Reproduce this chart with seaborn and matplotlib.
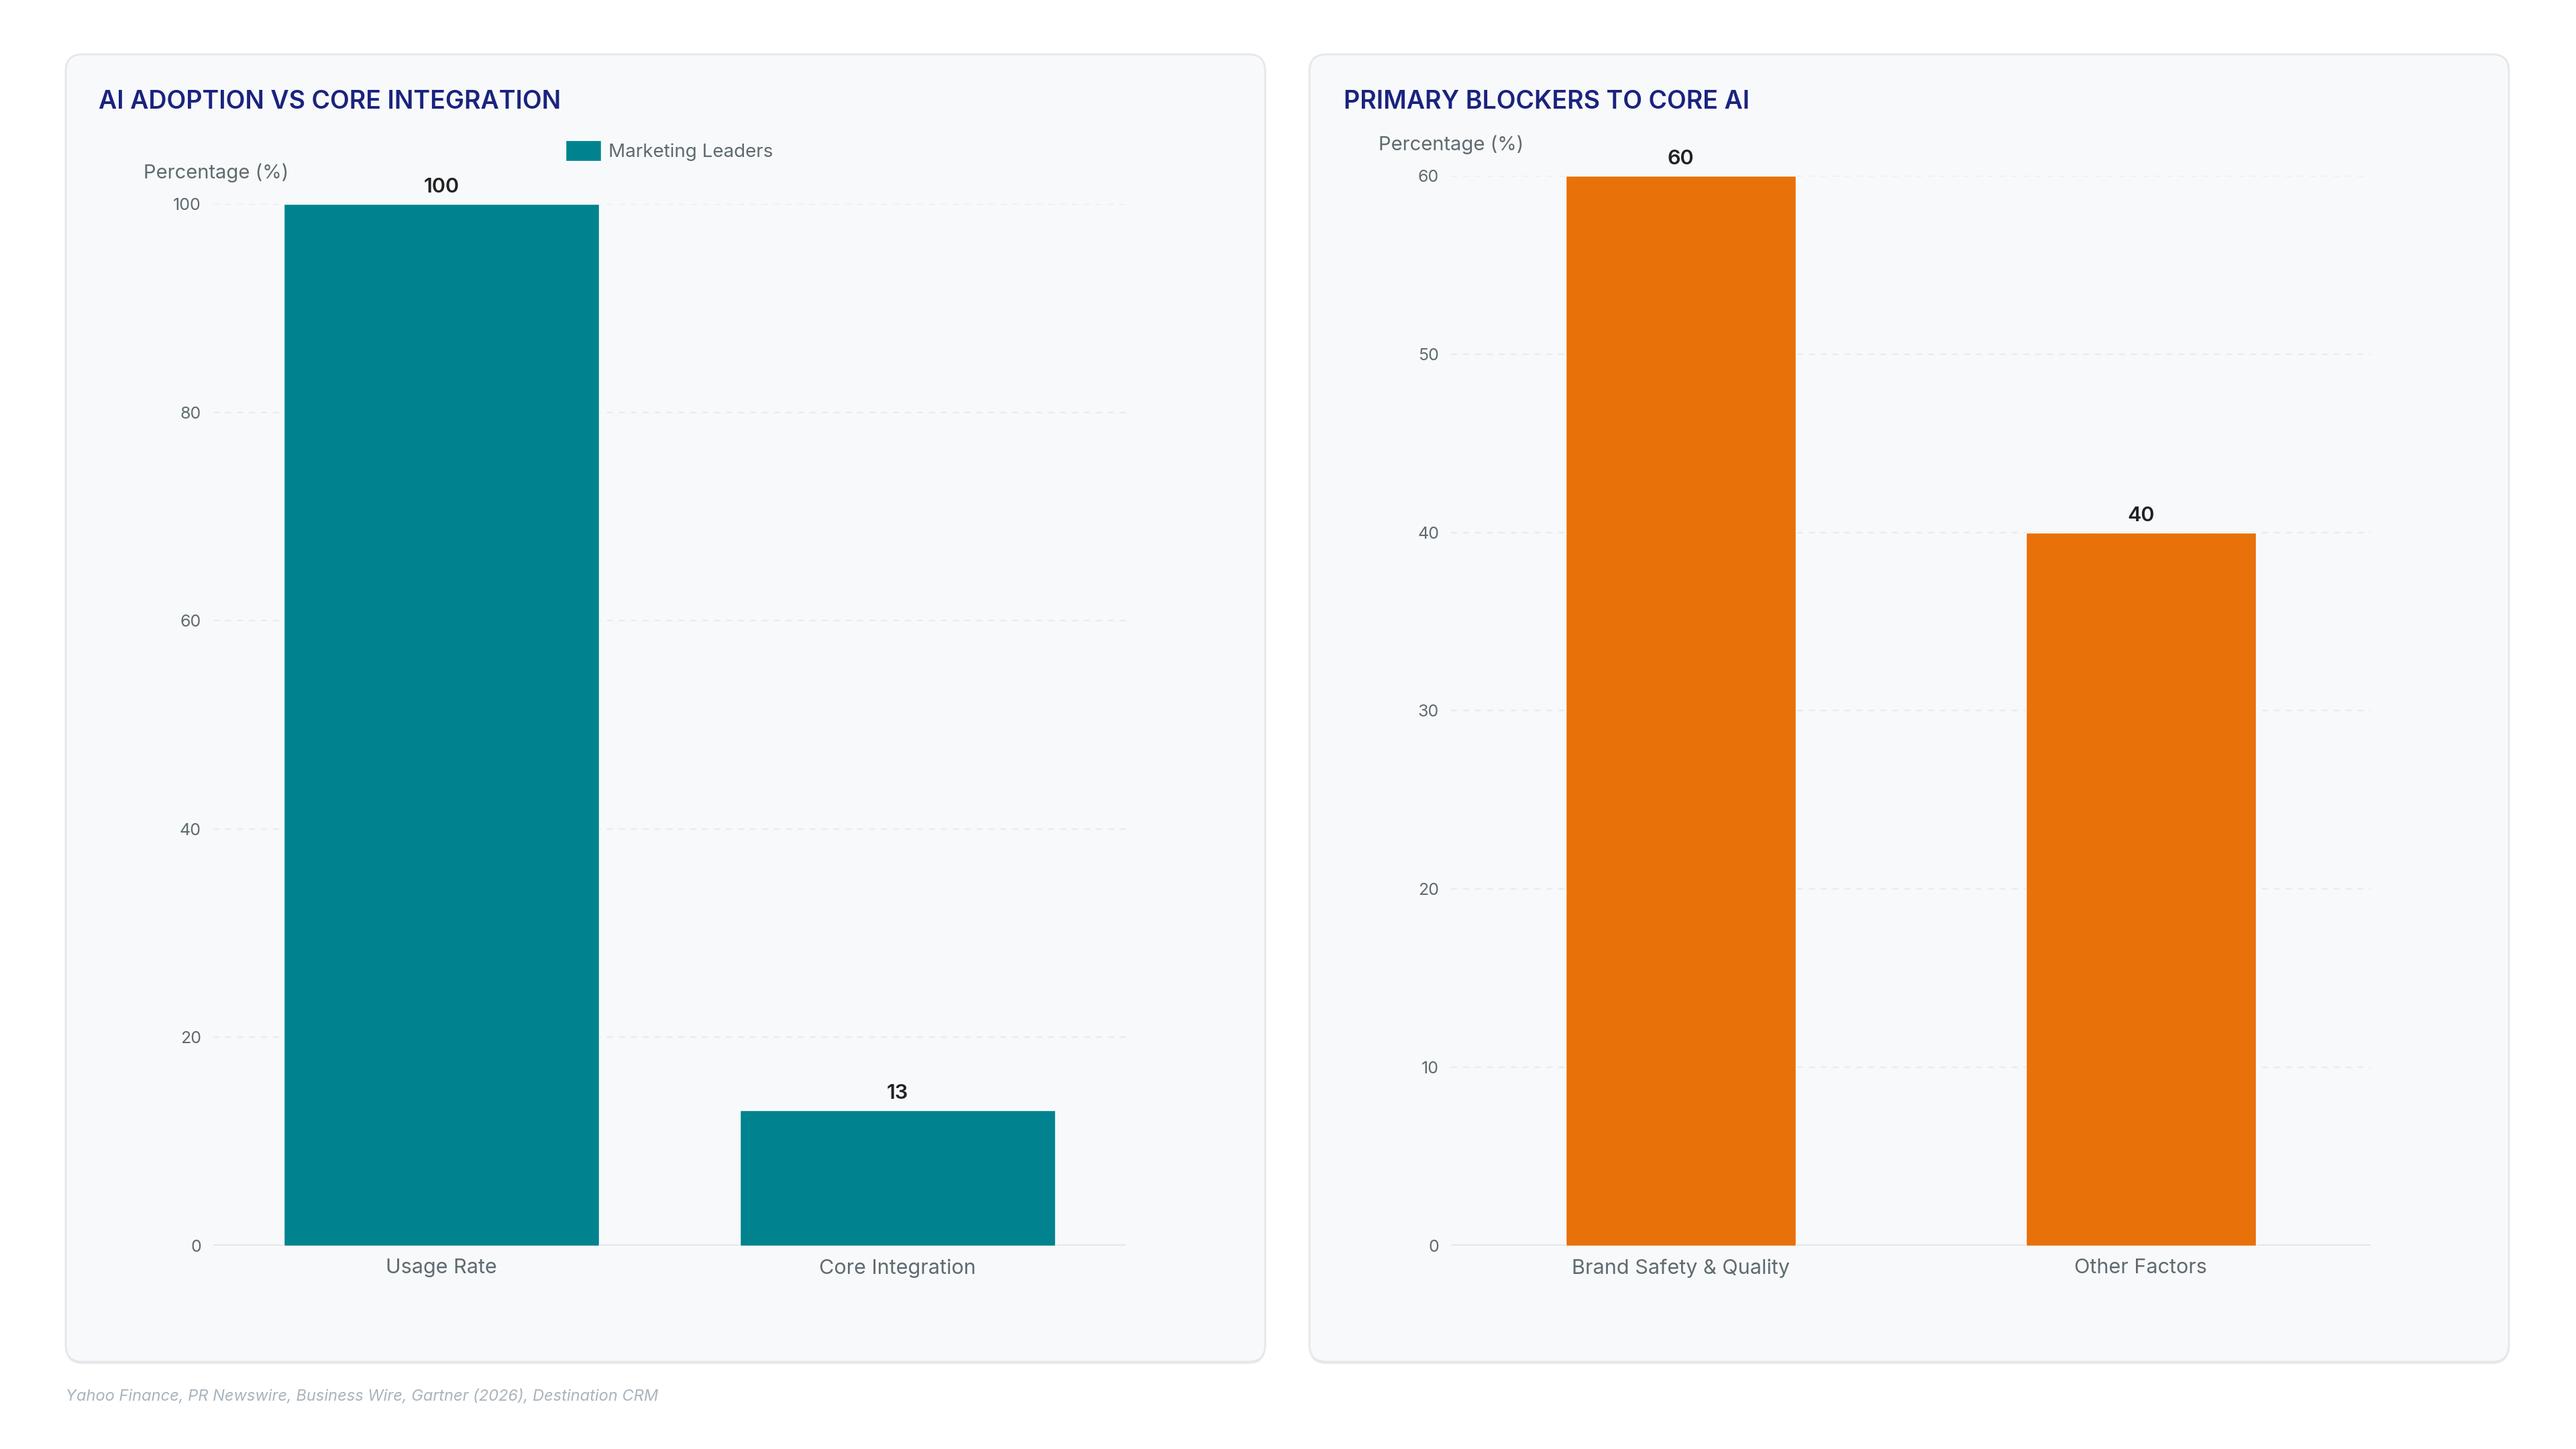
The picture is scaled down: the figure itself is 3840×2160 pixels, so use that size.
import numpy as np
import pandas as pd
import matplotlib
matplotlib.use("Agg")
import matplotlib.pyplot as plt
import seaborn as sns
from matplotlib.patches import FancyBboxPatch
from matplotlib.legend_handler import HandlerPatch

# data
adoption_cats = ["Usage Rate", "Core Integration"]
adoption_vals = [100, 13]
adoption_series = "Marketing Leaders"
adoption_ticks = [0, 20, 40, 60, 80, 100]

blocker_cats = ["Brand Safety & Quality", "Other Factors"]
blocker_vals = [60, 40]
blocker_ticks = [0, 10, 20, 30, 40, 50, 60]

source_note = "Yahoo Finance, PR Newswire, Business Wire, Gartner (2026), Destination CRM"

TEAL = "#00838f"
ORANGE = "#e8710a"
NAVY = "#1a237e"
GREY_TXT = "#5f6b70"
PANEL_BG = "#f8f9fb"
BORDER = "#e5e7eb"

sns.set_theme(style="white")
plt.rcParams["font.family"] = ["Inter", "DejaVu Sans"]

fig = plt.figure(figsize=(38.4, 21.6), dpi=100)
fig.patch.set_facecolor("white")

# panel cards (inches)
for x0 in (0.98, 19.52):
    shadow = FancyBboxPatch((x0, 1.27), 17.88, 19.49, boxstyle="round,pad=0,rounding_size=0.25",
                            transform=fig.dpi_scale_trans, facecolor=BORDER, edgecolor="none", zorder=-2)
    card = FancyBboxPatch((x0, 1.30), 17.88, 19.49, boxstyle="round,pad=0,rounding_size=0.25",
                          transform=fig.dpi_scale_trans, facecolor=PANEL_BG, edgecolor=BORDER,
                          linewidth=2, zorder=-1)
    fig.patches.extend([shadow, card])


def rounded_handle(legend, orig_handle, xdescent, ydescent, width, height, fontsize):
    return FancyBboxPatch((-xdescent, -ydescent), width, height,
                          boxstyle="round,pad=0,rounding_size=6")


def style_axis(ax, ticks):
    ax.set_facecolor("none")
    ax.set_zorder(2)
    for s in ax.spines.values():
        s.set_visible(False)
    ax.set_yticks(ticks)
    ax.set_ylim(0, ticks[-1])
    ax.set_xlim(-0.5, 1.5)
    ax.tick_params(axis="y", length=0, pad=13, labelsize=18, labelcolor=GREY_TXT)
    ax.tick_params(axis="x", length=0, pad=14, labelsize=22, labelcolor=GREY_TXT)
    ax.yaxis.grid(True, linestyle=(0, (4, 4)), color="#e9ebee", linewidth=1.6)
    ax.set_axisbelow(True)
    ax.axhline(0, color=BORDER, linewidth=3, zorder=1)
    ax.set_xlabel("")
    ax.set_ylabel("Percentage (%)", rotation=0, fontsize=21, color=GREY_TXT, va="center")


# left chart
ax1 = fig.add_axes([0.0828, 0.1403, 0.3542, 0.719])
adoption_df = pd.DataFrame({"category": adoption_cats, "value": adoption_vals})
sns.barplot(data=adoption_df, x="category", y="value", color=TEAL, width=0.69,
            saturation=1, label=adoption_series, ax=ax1, zorder=2)
style_axis(ax1, adoption_ticks)
ax1.yaxis.set_label_coords(0.003, 1.03)
ax1.bar_label(ax1.containers[0], fmt="%d", padding=8, fontsize=22, fontweight="semibold", color="#222222")
leg = ax1.legend(loc="center", bbox_to_anchor=(0.5, 1.051), frameon=False, fontsize=20,
                 handlelength=1.9, handleheight=1.35, handletextpad=0.4, labelcolor=GREY_TXT,
                 handler_map={matplotlib.patches.Rectangle: HandlerPatch(patch_func=rounded_handle)})
fig.text(147 / 3840, 1 - 152 / 2160, "AI ADOPTION VS CORE INTEGRATION", fontsize=27,
         fontweight="semibold", color=NAVY, ha="left", va="center")

# right chart
ax2 = fig.add_axes([0.5633, 0.1403, 0.357, 0.7384])
blocker_df = pd.DataFrame({"category": blocker_cats, "value": blocker_vals})
sns.barplot(data=blocker_df, x="category", y="value", color=ORANGE, width=0.5,
            saturation=1, ax=ax2, zorder=2)
style_axis(ax2, blocker_ticks)
ax2.yaxis.set_label_coords(0.0, 1.029)
ax2.bar_label(ax2.containers[0], fmt="%d", padding=8, fontsize=22, fontweight="semibold", color="#222222")
fig.text(2003 / 3840, 1 - 152 / 2160, "PRIMARY BLOCKERS TO CORE AI", fontsize=27,
         fontweight="semibold", color=NAVY, ha="left", va="center")

# source footer
fig.text(98 / 3840, 1 - 2082 / 2160, source_note, fontsize=17, style="italic",
         color="#a9b4bc", ha="left", va="center")

fig.savefig("out.png", dpi=100, facecolor="white")
